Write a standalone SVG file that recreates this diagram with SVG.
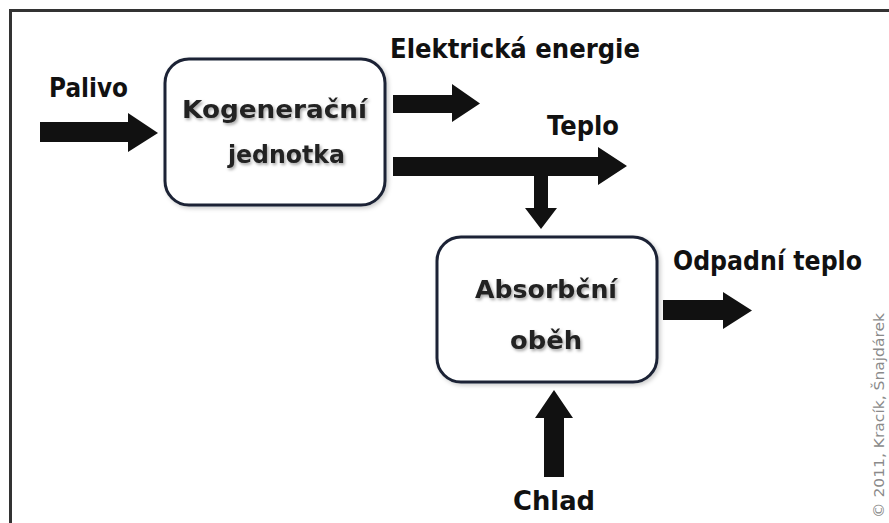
<svg xmlns="http://www.w3.org/2000/svg" width="889" height="523" viewBox="0 0 889 523">
<defs>
<filter id="tsh" x="-10%" y="-30%" width="120%" height="160%">
<feDropShadow dx="1.5" dy="2" stdDeviation="1.6" flood-color="#000" flood-opacity="0.35"/>
</filter>
<filter id="bsh" x="-10%" y="-10%" width="120%" height="120%">
<feDropShadow dx="2" dy="2" stdDeviation="2" flood-color="#000" flood-opacity="0.2"/>
</filter>
</defs>
<style>
.frame{fill:none;stroke:#333;stroke-width:3}
.box{fill:#fff;stroke:#1b2436;stroke-width:3}
.arrow{fill:#111;stroke:none}
.lbl{font-family:"DejaVu Sans","Liberation Sans",sans-serif;font-weight:bold;font-size:26px;fill:#111}
.btx{font-family:"DejaVu Sans","Liberation Sans",sans-serif;font-weight:bold;font-size:25px;fill:#222}
.copy{font-family:"DejaVu Sans","Liberation Sans",sans-serif;font-size:14px;fill:#8a8a8a}
</style>
<rect x="0" y="0" width="889" height="523" fill="#fff"/>
<rect class="frame" x="10.5" y="10.5" width="900" height="560"/>
<g id="connectors">
<polygon class="arrow" points="40,122 128,122 128,113 158,133 128,152 128,142 40,142"/>
<polygon class="arrow" points="393,95 452,95 452,84 480,103.5 452,122 452,113 393,113"/>
<polygon class="arrow" points="393,157 598,157 598,147 627,166 598,185 598,176 548,176 548,208 557,208 541,229 525,208 534,208 534,176 393,176"/>
<polygon class="arrow" points="663,300 723,300 723,292 752,310.5 723,329 723,320 663,320"/>
<polygon class="arrow" points="544,477 544,418 535,418 554,390 573,418 564,418 564,477"/>
</g>
<g id="node-kogeneracni">
<rect class="box" x="165" y="59" width="220" height="146" rx="24" filter="url(#bsh)"/>
<text class="btx" filter="url(#tsh)" x="182" y="118" textLength="185" lengthAdjust="spacingAndGlyphs">Kogenerační</text>
<text class="btx" filter="url(#tsh)" x="228" y="163" textLength="117" lengthAdjust="spacingAndGlyphs">jednotka</text>
</g>
<g id="node-absorbcni">
<rect class="box" x="437" y="237" width="220" height="145" rx="24" filter="url(#bsh)"/>
<text class="btx" filter="url(#tsh)" x="475" y="298" textLength="142" lengthAdjust="spacingAndGlyphs">Absorbční</text>
<text class="btx" filter="url(#tsh)" x="510" y="349" textLength="72" lengthAdjust="spacingAndGlyphs">oběh</text>
</g>
<g id="labels">
<text class="lbl" x="49" y="97" textLength="79" lengthAdjust="spacingAndGlyphs">Palivo</text>
<text class="lbl" x="390" y="58" textLength="250" lengthAdjust="spacingAndGlyphs">Elektrická energie</text>
<text class="lbl" x="547" y="135" textLength="72" lengthAdjust="spacingAndGlyphs">Teplo</text>
<text class="lbl" x="673" y="270" textLength="189" lengthAdjust="spacingAndGlyphs">Odpadní teplo</text>
<text class="lbl" x="513" y="510" textLength="82" lengthAdjust="spacingAndGlyphs">Chlad</text>
<text class="copy" transform="translate(884,518) rotate(-90)" x="0" y="0" textLength="205" lengthAdjust="spacingAndGlyphs">© 2011, Kracík, Šnajdárek</text>
</g>
</svg>
